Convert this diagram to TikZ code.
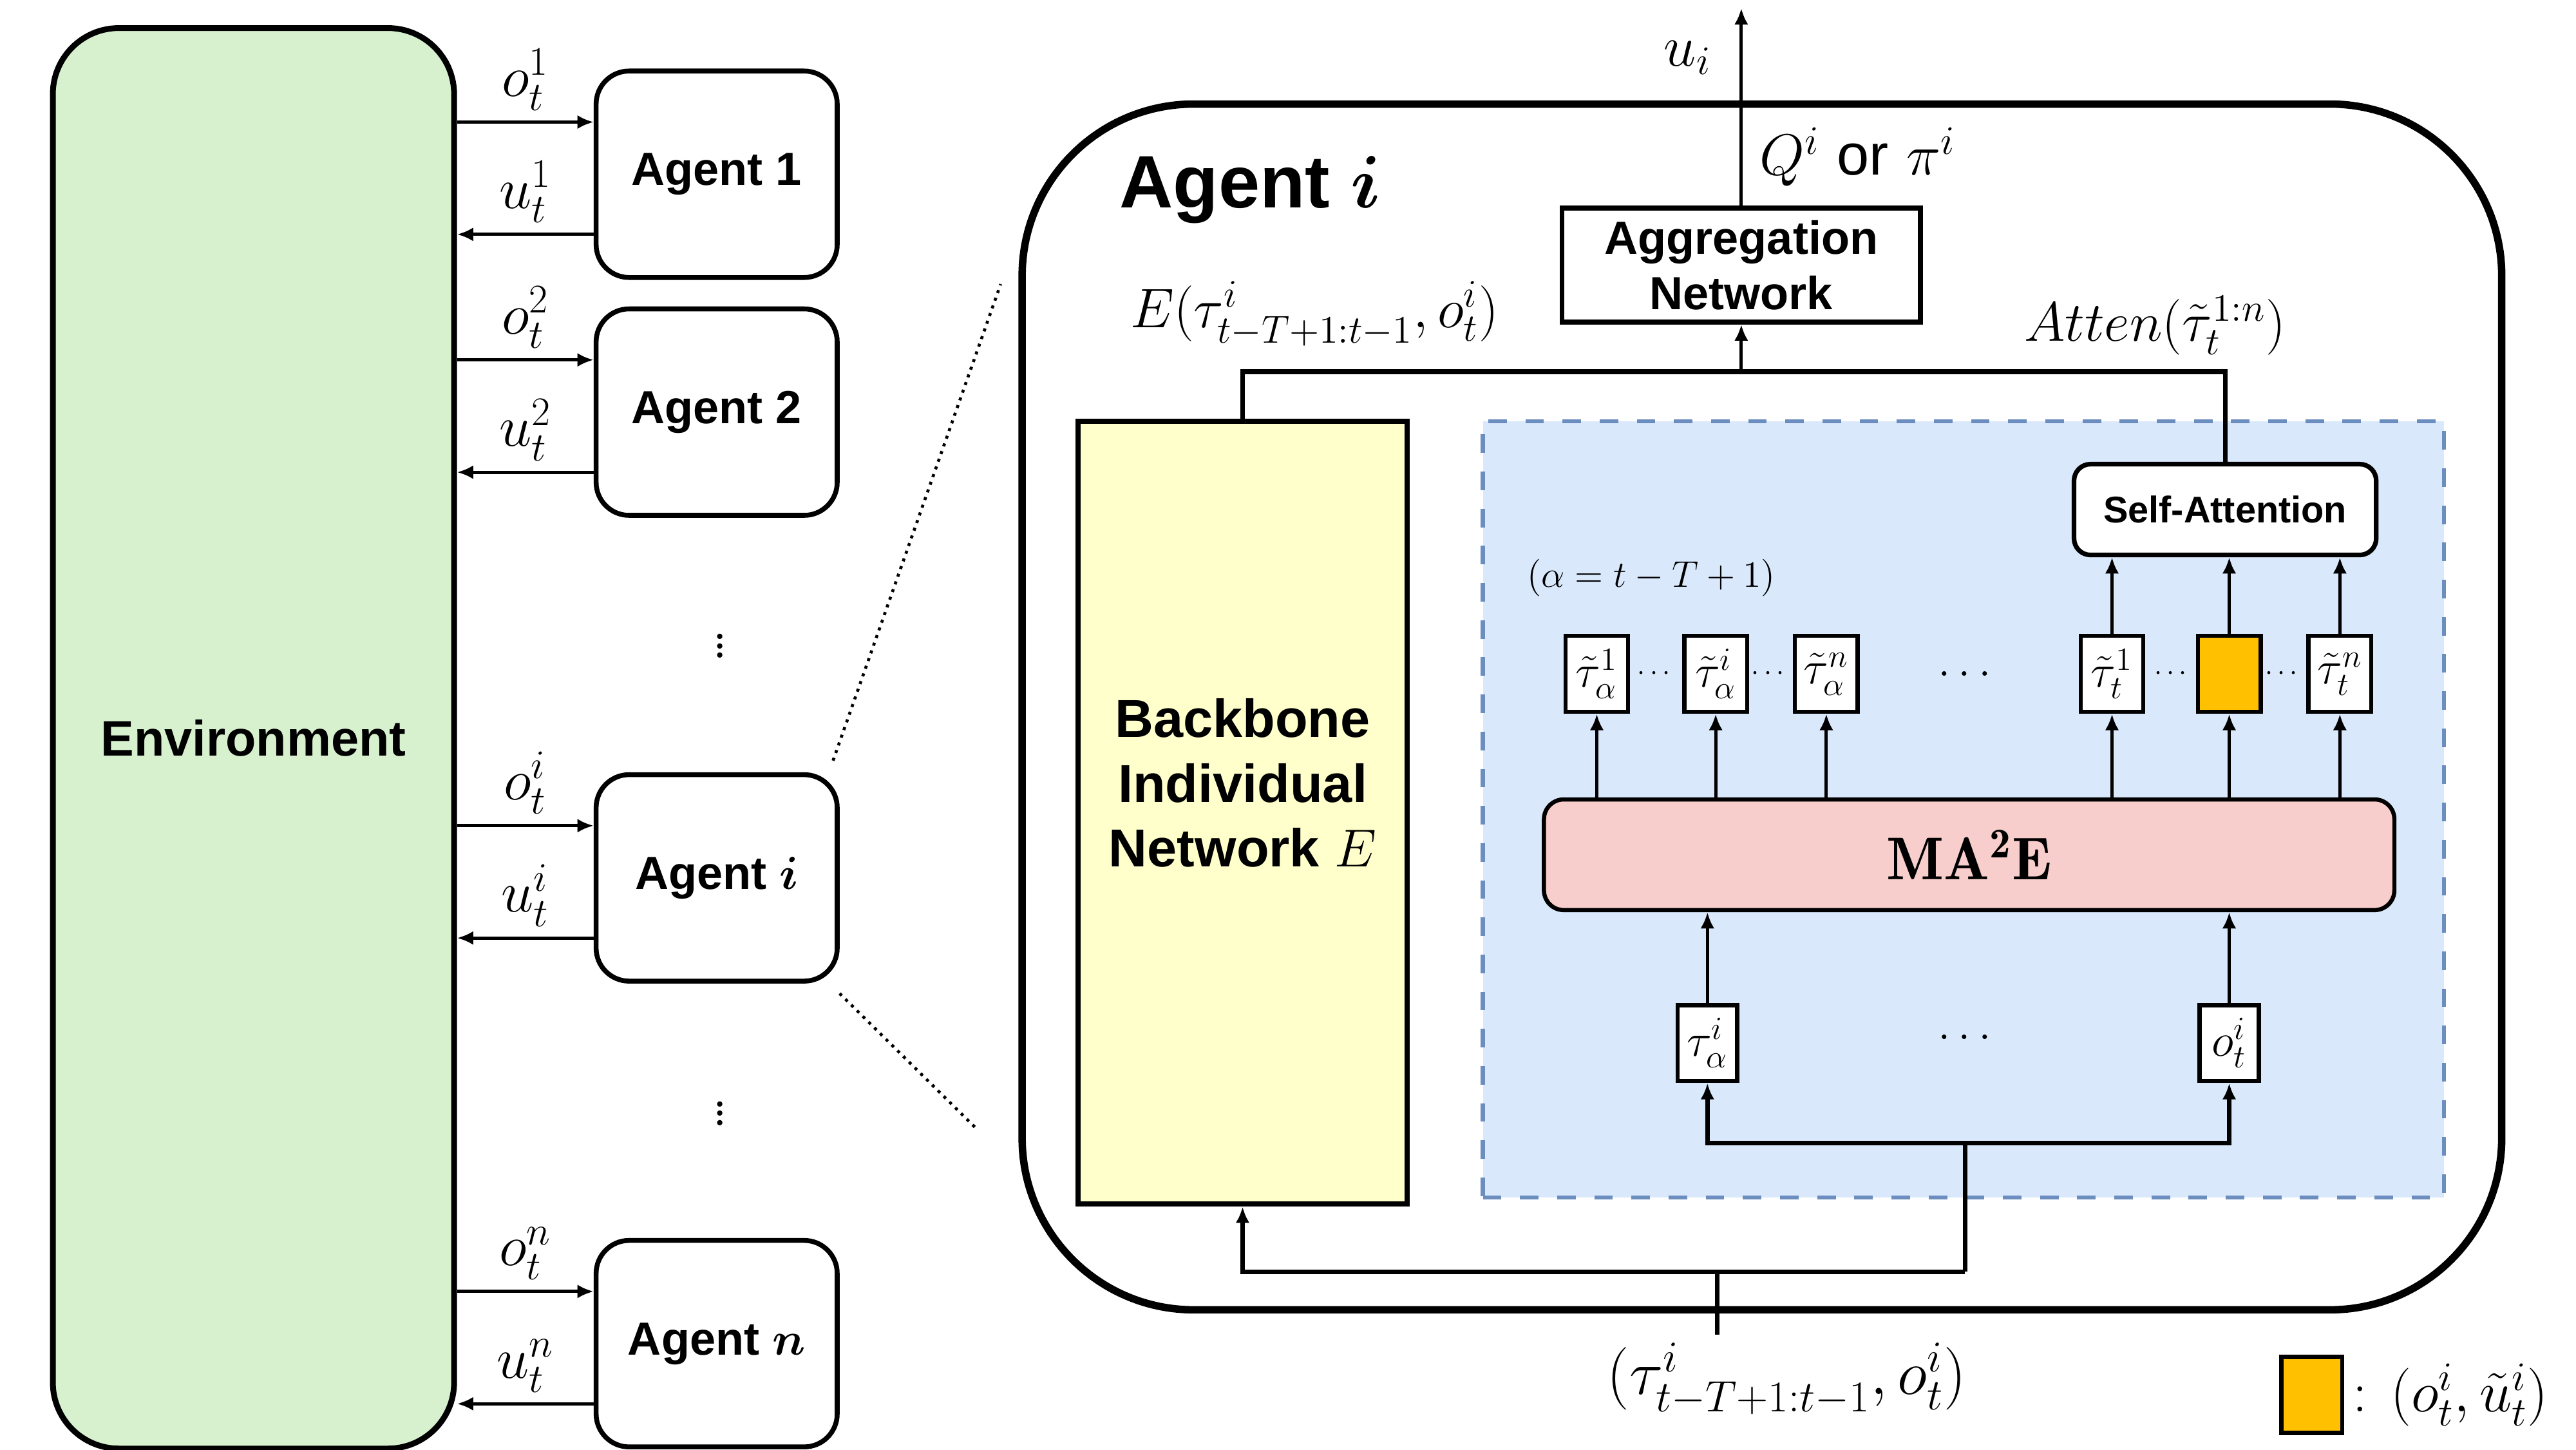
\RequirePackage{fix-cm}
\documentclass[tikz,border=0pt]{standalone}
\usepackage{amsmath}
\usepackage{amssymb}
\usepackage{fontspec}
\setsansfont{Liberation Sans}
\usepackage{tikz}
\usetikzlibrary{arrows.meta}

\definecolor{envgreen}{HTML}{D7F1CF}
\definecolor{bbyellow}{HTML}{FFFFCC}
\definecolor{attnblue}{HTML}{DAE8FC}
\definecolor{dashblue}{HTML}{6C8EBF}
\definecolor{mapink}{HTML}{F8CECC}
\definecolor{gold}{HTML}{FFC000}

\begin{document}
\begin{tikzpicture}[x=0.25mm,y=-0.25mm]
  \tikzstyle{agentbox}=[draw,line width=2.1pt,rounded corners=5mm,minimum width=36.5mm,minimum height=31.25mm,font=\sffamily\bfseries\fontsize{20}{24}\selectfont]
  \tikzstyle{arr}=[-{Latex[length=7pt,width=6pt]},line width=1.4pt]
  \tikzstyle{thick arr}=[-{Latex[length=7pt,width=6pt]},line width=2pt]
  \tikzstyle{lbl}=[inner sep=0pt,font=\fontsize{25}{29}\selectfont]
  \tikzstyle{token}=[draw,fill=white,line width=1.8pt,minimum width=9.5mm,minimum height=11.5mm,inner sep=0pt,font=\fontsize{20}{22}\selectfont]
  \tikzstyle{dotlbl}=[inner sep=0pt,font=\fontsize{12}{14}\selectfont]
  \tikzstyle{bigdots}=[inner sep=0pt,font=\fontsize{20}{22}\selectfont]
  \tikzstyle{vdotlbl}=[inner sep=0pt,font=\fontsize{28}{30}\selectfont]

  \useasboundingbox (0,0) rectangle (1560,877.5);

  % environment and agents
  \draw (153.5,447) node[draw,line width=2.5pt,fill=envgreen,rounded corners=10mm,minimum width=60.75mm,minimum height=215mm,font=\sffamily\bfseries\fontsize{21.5}{25}\selectfont] (Env) {Environment};

  \draw (434,105.5) node[agentbox] (A1) {Agent 1};
  \draw (434,249.5) node[agentbox] (A2) {Agent 2};
  \draw (434,531.5) node[agentbox] (Ai) {Agent $\boldsymbol{i}$};
  \draw (434,813.5) node[agentbox] (An) {Agent $\boldsymbol{n}$};

  \coordinate (o1) at ([yshift=7.9mm]A1.west);
  \coordinate (u1) at ([yshift=-9.1mm]A1.west);
  \coordinate (o2) at ([yshift=7.9mm]A2.west);
  \coordinate (u2) at ([yshift=-9.1mm]A2.west);
  \coordinate (oi) at ([yshift=7.9mm]Ai.west);
  \coordinate (ui) at ([yshift=-9.1mm]Ai.west);
  \coordinate (on) at ([yshift=7.9mm]An.west);
  \coordinate (un) at ([yshift=-9.1mm]An.west);

  \draw[arr] (Env.east |- o1) -- node[lbl,above=1.5mm] (lo1) {$o^{1}_{t}$} (o1);
  \draw[arr] (u1) -- node[lbl,above=1.5mm] (lu1) {$u^{1}_{t}$} (Env.east |- u1);
  \draw[arr] (Env.east |- o2) -- node[lbl,above=1.5mm] (lo2) {$o^{2}_{t}$} (o2);
  \draw[arr] (u2) -- node[lbl,above=1.5mm] (lu2) {$u^{2}_{t}$} (Env.east |- u2);
  \draw[arr] (Env.east |- oi) -- node[lbl,above=1.5mm] (loi) {$o^{i}_{t}$} (oi);
  \draw[arr] (ui) -- node[lbl,above=1.5mm] (lui) {$u^{i}_{t}$} (Env.east |- ui);
  \draw[arr] (Env.east |- on) -- node[lbl,above=1.5mm] (lon) {$o^{n}_{t}$} (on);
  \draw[arr] (un) -- node[lbl,above=1.5mm] (lun) {$u^{n}_{t}$} (Env.east |- un);

  \draw (436,387) node[vdotlbl] (V1) {$\vdots$};
  \draw (436,670) node[vdotlbl] (V2) {$\vdots$};

  % zoom lines
  \coordinate (Z1) at (606,172);
  \coordinate (Z2) at (592,684);
  \draw[line width=1.3pt,dash pattern=on 1.3pt off 2.2pt] ([shift={(-1mm,1.75mm)}]Ai.north east) -- (Z1);
  \draw[line width=1.3pt,dash pattern=on 1.3pt off 2.2pt] ([yshift=-1.5mm]Ai.south east) -- (Z2);

  % agent i
  \draw (1067,428) node[draw,line width=3.2pt,rounded corners=26mm,minimum width=224mm,minimum height=182.5mm] (Big) {};
  \draw (757,115) node[inner sep=0pt,font=\sffamily\bfseries\fontsize{32}{36}\selectfont] (Title) {Agent $\boldsymbol{i}$};

  \draw (1189,490) node[draw=dashblue,fill=attnblue,line width=1.8pt,dash pattern=on 8pt off 8pt,minimum width=145.5mm,minimum height=117.5mm] (Region) {};

  \draw (752.5,492) node[draw,fill=bbyellow,line width=2.2pt,minimum width=49.75mm,minimum height=118.5mm] (BB) {};
  \draw (752.5,474) node[align=center,inner sep=0pt,font=\sffamily\bfseries\fontsize{23}{28}\selectfont] (BBtext) {Backbone\\Individual\\Network $E$};

  \draw (1054.5,160.5) node[draw,line width=2pt,minimum width=54.25mm,minimum height=17.25mm,align=center,font=\sffamily\bfseries\fontsize{20}{24}\selectfont] (Agg) {Aggregation\\Network};

  \draw (1347.5,308.5) node[draw,fill=white,line width=2pt,rounded corners=2.5mm,minimum width=45.75mm,minimum height=13.75mm,font=\sffamily\bfseries\fontsize{16}{19}\selectfont] (SA) {Self-Attention};

  \draw (1192.5,517.5) node[draw,fill=mapink,line width=1.8pt,rounded corners=3mm,minimum width=128.75mm,minimum height=16.75mm,font=\fontsize{26}{30}\selectfont] (MAE) {$\mathbf{MA^{2}E}$};

  \draw (1000,350) node[inner sep=0pt,font=\fontsize{16}{19}\selectfont] (Alpha) {$(\alpha=t-T+1)$};

  \draw (967,408) node[token] (T1) {$\tilde{\tau}^{1}_{\alpha}$};
  \draw (1039,408) node[token] (T2) {$\tilde{\tau}^{i}_{\alpha}$};
  \draw (1106,408) node[token] (T3) {$\tilde{\tau}^{n}_{\alpha}$};
  \draw (1279,408) node[token] (T4) {$\tilde{\tau}^{1}_{t}$};
  \draw (1350,408) node[token,fill=gold] (T5) {};
  \draw (1417,408) node[token] (T6) {$\tilde{\tau}^{n}_{t}$};

  \draw (1003,408) node[dotlbl] (D1) {$\cdots$};
  \draw (1072,408) node[dotlbl] (D2) {$\cdots$};
  \draw (1316,408) node[dotlbl] (D3) {$\cdots$};
  \draw (1383,408) node[dotlbl] (D4) {$\cdots$};
  \draw (1192,408) node[bigdots] (D5) {$\dots$};

  \draw (1034,631.5) node[token,minimum width=9mm] (L1) {$\tau^{i}_{\alpha}$};
  \draw (1350,631.5) node[token,minimum width=9mm] (L2) {$o^{i}_{t}$};
  \draw (1192,628) node[bigdots] (D6) {$\dots$};

  \draw[arr] (MAE.north -| T1) -- (T1.south);
  \draw[arr] (MAE.north -| T2) -- (T2.south);
  \draw[arr] (MAE.north -| T3) -- (T3.south);
  \draw[arr] (MAE.north -| T4) -- (T4.south);
  \draw[arr] (MAE.north -| T5) -- (T5.south);
  \draw[arr] (MAE.north -| T6) -- (T6.south);

  \draw[arr] (T4.north) -- (SA.south -| T4);
  \draw[arr] (T5.north) -- (SA.south -| T5);
  \draw[arr] (T6.north) -- (SA.south -| T6);

  \draw[arr] (L1.north) -- (MAE.south -| L1);
  \draw[arr] (L2.north) -- (MAE.south -| L2);

  % outputs
  \coordinate (Jmid) at (Agg.south |- 0,225);
  \coordinate (Out) at (Agg.north |- 0,5);
  \draw[line width=2pt] (BB.north) |- (Jmid) -| (SA.north);
  \draw[arr] (Jmid) -- (Agg.south);
  \draw[arr] (Agg.north) -- (Out);
  \draw (1022,35) node[lbl] (Ulbl) {$u_{i}$};
  \draw (1125,95) node[lbl] (Qlbl) {$Q^{i}$ \textsf{or} $\pi^{i}$};
  \draw (796,190) node[lbl,font=\fontsize{24}{28}\selectfont] (Elbl) {$E(\tau^{i}_{t-T+1:t-1},o^{i}_{t})$};
  \draw (1305,197) node[lbl,font=\fontsize{24}{28}\selectfont] (Atlbl) {$Atten(\tilde{\tau}^{1:n}_{t})$};

  % inputs
  \coordinate (In) at (1040,808);
  \coordinate (Jin) at (1040,770);
  \coordinate (Jr) at (1190,770);
  \coordinate (Jup) at (1190,692);
  \draw[line width=2pt] (In) -- (Jin);
  \draw[thick arr] (Jr) -| (BB.south);
  \draw[line width=2pt] (Jr) -- (Jup);
  \draw[thick arr] (Jup) -| (L1.south);
  \draw[thick arr] (Jup) -| (L2.south);
  \draw (1082,835) node[lbl,font=\fontsize{27}{31}\selectfont] (Inlbl) {$(\tau^{i}_{t-T+1:t-1},o^{i}_{t})$};

  % legend
  \draw (1400,844.5) node[draw,fill=gold,line width=1.8pt,minimum width=9.25mm,minimum height=11.5mm] (Leg) {};
  \draw ([xshift=1.2mm]Leg.east) node[lbl,anchor=west] (Leglbl) {: $(o^{i}_{t},\tilde{u}^{i}_{t})$};

\end{tikzpicture}
\end{document}
